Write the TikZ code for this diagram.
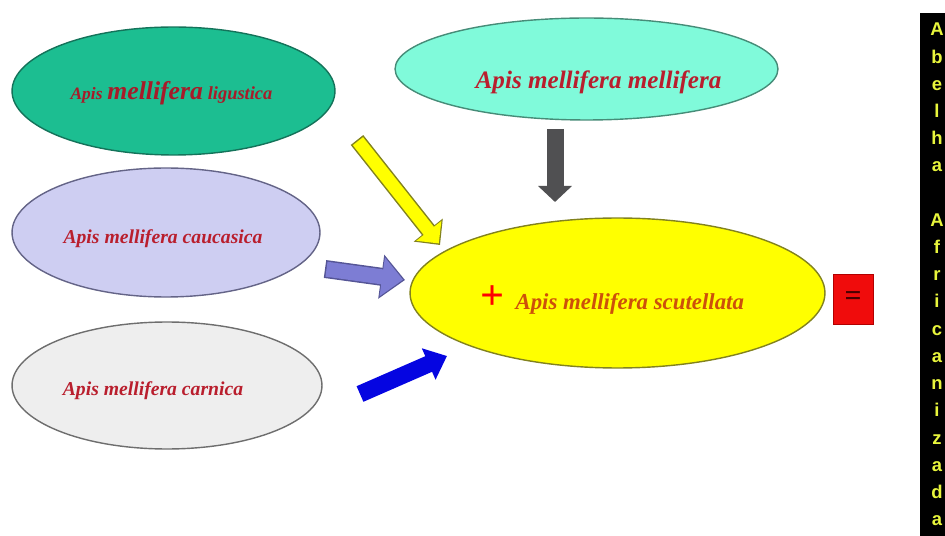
\documentclass[tikz,border=0pt]{standalone}
\usepackage{fontspec}
\setmainfont{Liberation Serif}
\newfontfamily\barfont{Liberation Sans}
\usepackage{tikz}
\usetikzlibrary{shapes.geometric,arrows.meta}
\definecolor{ligfill}{RGB}{28,190,145}
\definecolor{ligline}{RGB}{20,115,90}
\definecolor{melfill}{RGB}{128,250,218}
\definecolor{melline}{RGB}{70,140,120}
\definecolor{caufill}{RGB}{206,206,242}
\definecolor{cauline}{RGB}{100,100,135}
\definecolor{carfill}{RGB}{238,238,238}
\definecolor{carline}{RGB}{110,110,110}
\definecolor{scufill}{RGB}{255,255,0}
\definecolor{sculine}{RGB}{130,130,30}
\definecolor{beered}{RGB}{185,30,45}
\definecolor{scutext}{RGB}{205,80,10}
\definecolor{arrlav}{RGB}{125,125,212}
\definecolor{arrlavline}{RGB}{85,85,150}
\definecolor{arrgray}{RGB}{80,80,82}
\definecolor{arrblue}{RGB}{5,5,225}
\definecolor{bartext}{RGB}{232,245,60}
\definecolor{eqred}{RGB}{240,12,12}
\tikzset{
 subsp/.style={ellipse, draw=#1line, fill=#1fill, line width=0.8pt, inner sep=0pt},
 subsp name/.style={text=beered, anchor=base, inner sep=0pt,
            font=\fontsize{11.2}{13}\selectfont\bfseries\itshape},
 barletter/.style={text=bartext, anchor=base, inner sep=0pt,
           font=\fontsize{10.5}{12}\barfont\bfseries},
}

\begin{document}
\begin{tikzpicture}[x=0.02cm, y=-0.02cm]
\useasboundingbox (0,0) rectangle (945,536);
% the five subspecies
\node[subsp=lig, minimum width=6.46cm, minimum height=2.56cm] (lig) at (173.5,91) {};
\node[subsp=mel, minimum width=7.66cm, minimum height=2.04cm] (mel) at (586.5,69) {};
\node[subsp=cau, minimum width=6.16cm, minimum height=2.58cm] (cau) at (166,232.5) {};
\node[subsp=car, minimum width=6.20cm, minimum height=2.54cm] (car) at (167,385.5) {};
\node[subsp=scu, minimum width=8.30cm, minimum height=3.00cm] (scu) at (617.5,293) {};
\node[subsp name, text=beered!90!black] (ligname) at (171.5,100)
 {{\fontsize{9.9}{12}\selectfont Apis} {\fontsize{14.6}{16}\selectfont mellifera} {\fontsize{10.5}{12}\selectfont ligustica}};
\node[subsp name, font=\fontsize{14.3}{16}\selectfont\bfseries\itshape] (melname) at (598.5,89) {Apis mellifera mellifera};
\node[subsp name] (cauname) at (163,244) {Apis mellifera caucasica};
\node[subsp name] (carname) at (153,395) {Apis mellifera carnica};
\node[subsp name, text=scutext, font=\fontsize{13}{15}\selectfont\bfseries\itshape] (scuname) at (612,310)
 {{\color{red}\fontsize{24}{26}\selectfont\upshape +}\enspace Apis mellifera scutellata};
% result sign
\node[draw=red!70!black, fill=eqred, minimum width=0.8cm, minimum height=1cm, inner sep=0pt,
   text=red!30!black, font=\fontsize{17}{19}\selectfont\bfseries] (eq) at (853,299) {=};
% block arrows into the yellow one
\coordinate (ylwtail) at (357,140);
\coordinate (ylwtip) at (440,245);
\coordinate (graytail) at (555,129);
\coordinate (graytip) at (555,202);
\coordinate (lavtail) at (325,269);
\coordinate (lavtip) at (405,280);
\coordinate (bluetail) at (360,394);
\coordinate (bluetip) at (447,356);
\draw[line width=0.32cm, draw=sculine, -{Triangle[width=0.72cm, length=0.38cm]}] (ylwtail) -- (ylwtip);
\draw[line width=0.26cm, draw=scufill, shorten <=0.03cm, shorten >=0.04cm,
   -{Triangle[width=0.62cm, length=0.32cm]}] (ylwtail) -- (ylwtip);
\draw[line width=0.34cm, draw=arrgray, -{Triangle[width=0.66cm, length=0.32cm]}] (graytail) -- (graytip);
\draw[line width=0.36cm, draw=arrlavline, -{Triangle[width=0.86cm, length=0.48cm]}] (lavtail) -- (lavtip);
\draw[line width=0.30cm, draw=arrlav, shorten <=0.03cm, shorten >=0.04cm,
   -{Triangle[width=0.76cm, length=0.42cm]}] (lavtail) -- (lavtip);
\draw[line width=0.34cm, draw=arrblue, -{Triangle[width=0.66cm, length=0.40cm]}] (bluetail) -- (bluetip);
% vertical caption on the right
\fill[black] (920,13) rectangle (945,536);
\foreach \l [count=\i from 0] in {A,b,e,l,h,a,{},A,f,r,i,c,a,n,i,z,a,d,a}{
 \node[barletter] (bl\i) at (937,{36+\i*27.2}) {\l};
}
\end{tikzpicture}
\end{document}
